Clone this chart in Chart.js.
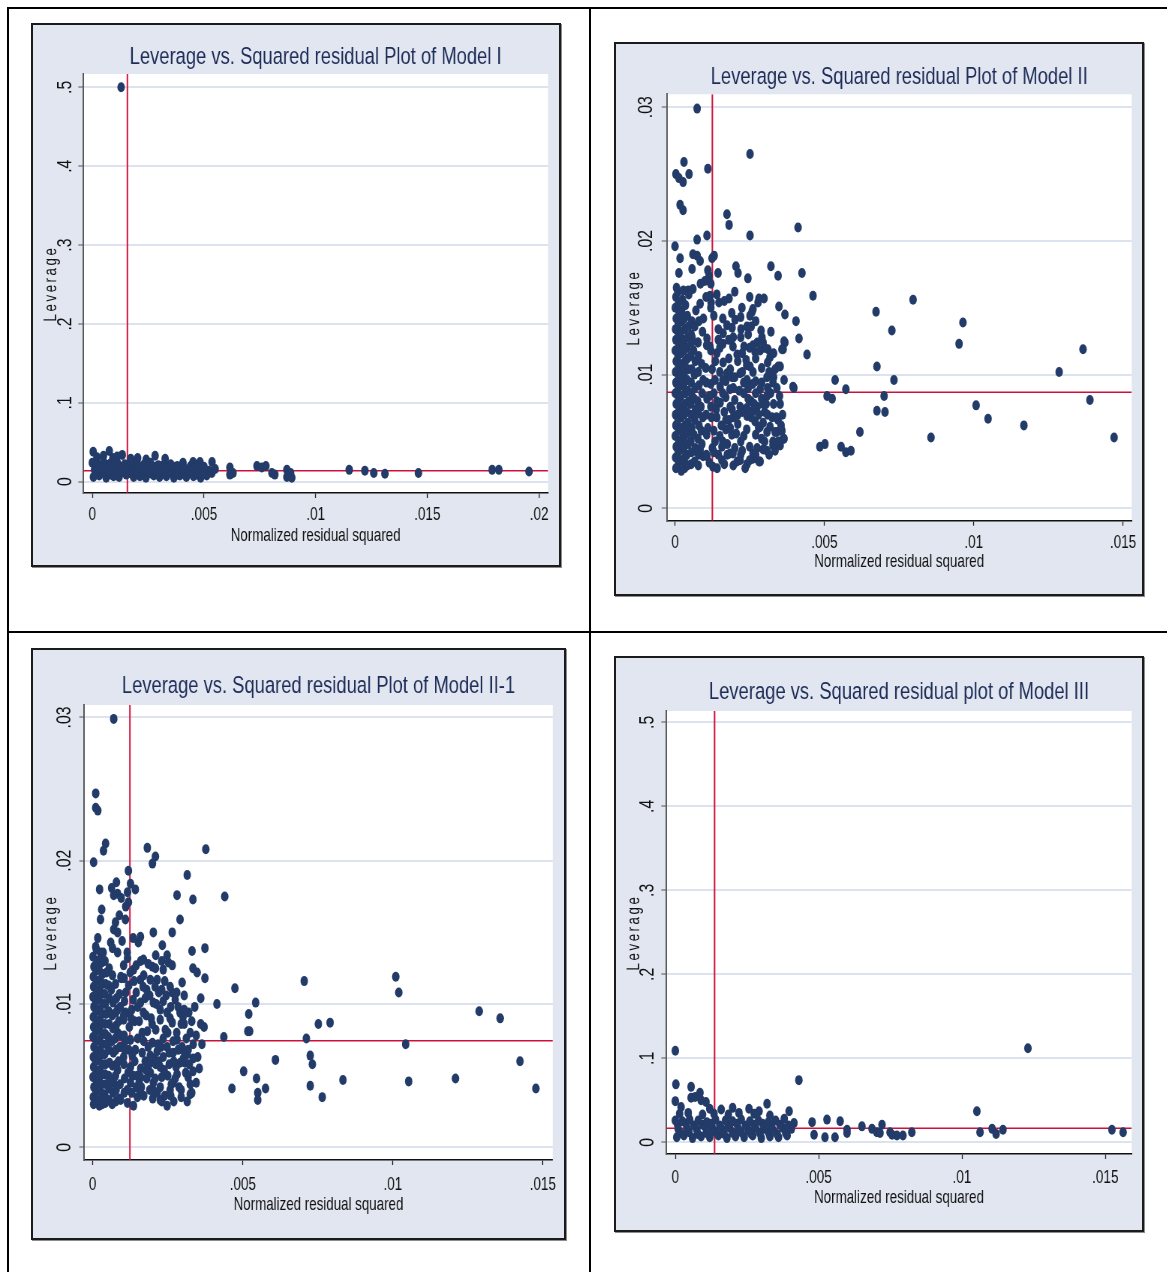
<!DOCTYPE html>
<html>
<head>
<meta charset="utf-8">
<script src="https://cdn.jsdelivr.net/npm/chart.js@4.4.0/dist/chart.umd.min.js"></script>
<style>
body { margin: 0; background: #fff; width: 1167px; height: 1272px; position: relative; overflow: hidden; }
.rule { position: absolute; background: #000; }
.panel { position: absolute; box-sizing: border-box; border: 2px solid #1b1b1b; background: #e1e6f0; box-shadow: 1px 1px 0 #8c8c8c; overflow: hidden; }
.panel canvas { position: absolute; left: 0; top: 0; transform-origin: 0 0; }
</style>
</head>
<body>
<div class="rule" style="left:7px;top:7px;width:1160px;height:2px"></div>
<div class="rule" style="left:7px;top:7px;width:2px;height:1265px"></div>
<div class="rule" style="left:589px;top:7px;width:2px;height:1265px"></div>
<div class="rule" style="left:7px;top:631px;width:1160px;height:2px"></div>
<script>
const modelTitles = [
    "Leverage vs. Squared residual Plot of Model I",
    "Leverage vs. Squared residual Plot of Model II",
    "Leverage vs. Squared residual Plot of Model II-1",
    "Leverage vs. Squared residual plot of Model III"
];
const xAxisTitle = "Normalized residual squared";
const yAxisTitle = "Leverage";

const xTicksWide = [0, 0.005, 0.01, 0.015, 0.02];
const xLabelsWide = ["0", ".005", ".01", ".015", ".02"];
const xTicksNarrow = [0, 0.005, 0.01, 0.015];
const xLabelsNarrow = ["0", ".005", ".01", ".015"];
const yTicksHigh = [0, 0.1, 0.2, 0.3, 0.4, 0.5];
const yLabelsHigh = ["0", ".1", ".2", ".3", ".4", ".5"];
const yTicksLow = [0, 0.01, 0.02, 0.03];
const yLabelsLow = ["0", ".01", ".02", ".03"];

// mean lines drawn in red
const refResid = [0.00157, 0.00125, 0.00124, 0.00137];
const refLev = [0.0140, 0.00868, 0.00744, 0.0167];

// Model I: [residual x 1e4, leverage x 1e2]
const m1Points = [
    [12.9,50.0],
    [0.4,3.8],[7.6,3.9],[13.4,3.4],[28.1,3.3],[32.6,2.9],[40.6,2.4],[45.1,2.5],[48.2,2.5],[53.6,2.5],
    [2.1,3.1],[5.0,3.3],[9.2,3.0],[11.1,3.2],[17.2,2.9],[20.3,3.0],[24.1,2.8],
    [0.5,0.6],[3.1,0.8],[6.2,0.5],[9.5,0.7],[12.0,0.6],[15.2,0.9],[18.5,0.6],[21.3,0.7],[24.0,0.5],[27.5,0.8],
    [30.1,0.6],[33.2,0.7],[36.5,0.5],[39.2,0.8],[42.1,0.6],[45.3,0.7],[48.5,0.5],[51.2,0.8],
    [2.0,1.0],[5.0,1.1],[8.5,0.9],[11.5,1.0],[14.0,1.2],[17.5,1.0],[20.5,1.1],[23.5,0.9],[26.5,1.0],[29.0,1.2],
    [32.0,1.0],[35.5,1.1],[38.0,0.9],[41.0,1.0],[44.5,1.1],[47.0,0.9],[50.0,1.0],[53.5,1.1],
    [1.0,1.5],[4.2,1.6],[7.5,1.4],[10.1,1.7],[13.0,1.5],[16.1,1.4],[19.2,1.6],[22.5,1.5],[25.1,1.3],[28.2,1.6],
    [31.0,1.5],[34.5,1.4],[37.1,1.6],[40.2,1.5],[43.5,1.3],[46.1,1.6],[49.0,1.5],[52.2,1.4],[55.0,1.6],
    [1.5,2.0],[4.0,1.9],[6.5,2.1],[9.5,2.0],[12.5,1.9],[16.0,2.0],[18.5,2.1],[21.5,1.9],[24.5,2.0],[27.5,1.9],
    [31.0,2.0],[33.0,1.8],[36.5,1.9],[41.0,1.8],[46.0,2.1],[50.0,1.9],
    [0.0,2.4],[2.5,2.2],[5.1,2.5],[8.0,2.3],[11.2,2.4],[14.5,2.2],[17.0,2.5],[20.1,2.3],[23.2,2.2],[26.0,2.4],
    [29.5,2.1],[35.1,2.2],[38.0,2.0],[44.0,2.0],[47.2,1.9],
    [61.6,1.8],[63.0,1.1],[61.6,0.9],[73.7,2.0],[75.9,1.8],[77.7,2.0],[80.4,1.1],[81.7,0.9],[87.1,1.5],[88.8,1.1],
    [87.1,0.6],[89.3,0.5],
    [115.0,1.5],[122.0,1.4],[126.0,1.1],[131.0,1.0],[146.0,1.1],[179.0,1.5],[182.0,1.5],[195.5,1.3]
];

// Model II: [residual x 1e4, leverage x 1e3]
const m2Points = [
    [7.4,29.9],[25.1,26.5],[3.0,25.9],[11.0,25.4],[0.3,25.0],[1.3,24.7],[2.7,24.4],[4.7,25.0],
    [1.7,22.7],[2.7,22.3],[17.4,22.0],[18.1,21.2],[41.2,21.0],[25.1,20.4],[10.7,20.4],[7.4,20.1],
    [0.0,19.6],[1.7,18.7],[6.0,19.0],[7.4,18.9],[8.4,18.5],[5.7,17.9],[12.4,18.7],[13.1,18.9],
    [1.3,17.6],[11.0,17.8],[11.4,17.4],[14.4,17.6],[20.4,18.1],[21.1,17.6],[24.4,17.2],[32.1,18.1],[34.5,17.4],[42.5,17.6],
    [46.2,15.9],[34.8,15.1],[36.8,14.5],[40.5,14.0],[41.5,12.7],[36.8,12.4],[36.2,11.9],[44.2,11.5],[39.5,9.1],[39.8,9.0],
    [67.3,14.7],[79.7,15.6],[72.6,13.3],[96.4,13.9],[95.1,12.3],[67.6,10.6],[73.3,9.6],[128.6,10.2],[136.6,11.9],
    [53.6,9.6],[57.2,8.9],[50.9,8.4],[52.6,8.2],[70.0,8.4],[67.6,7.3],[70.3,7.2],[100.8,7.7],[104.8,6.7],[116.8,6.2],
    [138.9,8.1],[147.0,5.3],[85.7,5.3],[61.9,5.7],
    [48.5,4.6],[50.2,4.8],[55.6,4.6],[57.2,4.2],[58.9,4.3],[36.5,5.2],[35.2,4.7],[35.2,10.6],[35.2,7.8],
    [4.4,16.3],[6.0,16.4],[8.4,15.3],[11.7,15.9],[10.4,15.8],[12.1,15.4],[14.7,15.4],[18.1,15.7],[22.4,15.0],
    [25.8,14.7],[26.1,14.9],[25.1,14.4],[27.8,15.4],[28.1,15.7],[29.8,15.7],
    [20.1,14.1],[17.4,13.7],[16.1,13.1],[19.1,13.5],[22.1,13.4],[24.1,13.6],
    [28.8,13.3],[29.1,12.8],[32.1,13.2],[29.5,12.4],[36.5,12.5],[35.8,11.9],[31.1,11.9],[31.8,11.3],
    [5.7,12.8],[7.7,12.4],[10.7,12.7],[11.7,12.1],
    [19.4,12.1],[20.8,11.5],[23.1,12.1],[26.1,12.2],[26.8,11.7],
    [23.8,11.1],[25.1,10.6],[26.1,10.2],[30.8,9.8],[32.8,9.9],[34.5,10.6],
    [16.1,10.9],[17.4,10.1],[19.1,9.8],[21.8,10.1],[24.1,9.6],
    [12.4,10.4],[13.4,9.6],[15.1,9.1],[18.4,8.9],
    [28.5,8.9],[30.8,8.4],[32.8,9.4],[34.1,9.0],
    [15.1,7.9],[19.1,7.4],[21.8,7.6],[24.1,6.9],[26.8,6.5],[29.5,6.4],[31.8,6.1],[34.1,5.7],[35.8,5.8],[36.2,5.2],
    [32.8,5.0],[30.8,4.3],[28.5,3.5],
    [8.4,4.4],[10.7,3.9],[13.4,5.0],[15.7,4.6],[18.4,4.1],[20.8,3.5],[24.1,3.3],[26.1,4.1],
    [7.4,4.2],[9.4,3.9],[12.7,3.1],[14.1,3.0],[15.7,3.6],[19.4,4.1],[21.8,3.6],[26.1,3.7],[28.1,3.5],
    [32.8,4.7],[34.5,5.0],[33.5,5.7],[30.8,5.7],[28.5,6.1],
    [17.0,8.3],[20.0,8.1],[23.0,8.6],[25.5,8.0],[27.5,7.6],[30.0,7.2],[33.0,7.8],[22.5,7.2],[26.0,7.3],[18.0,6.6],
    [21.0,6.3],[24.0,5.9],[27.0,5.5],[29.0,5.2],[19.0,5.5],[22.0,5.0],[17.0,5.9],[16.5,7.2],[14.0,6.8],[12.0,7.6],
    [13.0,8.6],[12.0,9.3],[15.0,10.2],[14.0,11.6],[16.0,12.3],[18.0,11.2],[21.0,11.0],[24.0,10.7],[27.0,11.2],
    [29.0,10.5],[31.0,10.9],[26.0,9.3],[23.0,9.4],[20.0,9.8],[17.0,9.5],
    [12.5,4.5],[13.0,5.8],[12.2,6.8],[14.5,4.0],[16.0,5.0],[15.5,6.2],[17.5,4.8],[18.5,6.0],[20.0,4.5],[20.5,5.6],
    [22.5,4.3],[23.0,5.4],[25.0,4.6],[25.5,6.8],[27.5,4.5],[28.0,6.0],[30.0,5.0],[31.0,7.0],[29.5,7.8],[32.0,8.6],
    [34.5,6.6],[36.0,7.0],[33.5,10.4],[36.5,9.6],[30.0,12.0],[33.0,11.6],[27.5,12.4],[24.5,13.0],[22.0,12.8],[18.0,12.6],
    [14.5,13.4],[13.0,14.4],[16.0,14.2],[19.0,14.6],[22.0,14.3],[13.5,11.0],[11.5,8.4],[11.0,6.0],[13.8,7.4],[16.0,8.6],
    [18.5,7.6],[19.5,9.0],[21.5,8.8],[24.5,8.2],[27.0,9.5],[29.0,9.4],[25.0,12.0],[28.5,11.8],[31.5,10.2],[15.0,12.0],
    [12.0,15.0],[14.0,16.0],[16.5,15.5],[20.0,16.2],[25.0,15.8],[10.0,17.0],[8.5,16.8],[12.0,16.8],
    [11.5,3.4],[13.0,4.2],[16.5,3.3],[17.5,4.0],[19.5,3.2],[22.0,4.0],[23.5,3.0],[25.0,3.6],[27.0,4.0],[29.5,4.4],
    [31.5,4.0],[33.5,4.3],[35.5,6.2],[34.0,6.8],[32.5,6.8],[30.5,7.8],[28.0,7.0],[26.5,7.8],[24.0,7.5],[21.0,7.0],
    [19.5,6.8],[17.0,6.6],[15.0,5.4],[14.0,8.0],[16.0,9.6],[18.5,10.4],[22.5,10.2],[24.5,9.0],[27.0,8.6],[29.0,8.2],
    [31.0,9.0],[33.0,9.8],[35.0,8.4],[12.0,11.8],[14.5,12.6],[19.5,12.8],[22.5,11.6],[25.5,13.6],[27.0,14.0],
    [0.3,3.0],[0.2,3.8],[0.4,4.6],[0.1,5.4],[0.3,6.2],[0.2,7.0],[0.4,7.8],[0.1,8.6],[0.3,9.4],[0.2,10.2],
    [0.4,11.0],[0.1,11.8],[0.3,12.6],[0.2,13.4],[0.4,14.2],[0.1,15.0],[0.3,15.8],[0.5,16.5],
    [1.2,3.4],[1.1,4.2],[1.3,5.0],[1.2,5.8],[1.0,6.6],[1.4,7.4],[1.2,8.2],[1.1,9.0],[1.3,9.8],[1.2,10.6],
    [1.0,11.4],[1.3,12.2],[1.2,13.0],[1.1,13.8],[1.4,14.6],[1.2,15.4],[1.0,16.2],
    [2.1,2.8],[2.3,3.6],[2.0,4.4],[2.4,5.2],[2.2,6.0],[2.1,6.8],[2.5,7.6],[2.0,8.4],[2.3,9.2],[2.2,10.0],
    [2.4,10.8],[2.1,11.6],[2.3,12.4],[2.0,13.2],[2.4,14.0],[2.2,14.8],[2.5,15.6],[2.8,16.3],
    [3.2,3.0],[3.3,3.8],[3.1,4.6],[3.2,5.4],[3.4,6.2],[3.0,7.0],[3.2,7.8],[3.3,8.6],[3.1,9.4],[3.2,10.2],
    [3.4,11.0],[3.0,11.8],[3.2,12.6],[3.3,13.4],[3.1,14.2],[3.5,15.2],
    [4.2,3.2],[4.0,4.0],[4.4,4.8],[4.1,5.6],[4.3,6.4],[4.0,7.2],[4.5,8.0],[4.2,8.8],[4.1,9.6],[4.4,10.4],
    [4.2,11.2],[4.0,12.0],[4.3,12.8],[4.5,13.6],[4.1,14.4],[4.6,16.0],
    [5.4,3.3],[5.5,4.2],[5.3,5.0],[5.6,6.0],[5.4,7.0],[5.2,7.8],[5.5,8.6],[5.4,9.4],[5.6,10.4],[5.3,11.4],
    [5.5,12.4],[5.4,13.0],[5.6,14.0],
    [6.5,3.5],[6.8,4.5],[6.3,5.5],[6.6,6.6],[6.9,7.4],[6.4,8.2],[6.7,9.0],[6.5,10.0],[6.8,11.0],[6.2,11.8],
    [6.6,13.6],[7.0,14.8],
    [7.8,3.2],[7.9,4.0],[7.7,5.2],[8.0,6.2],[7.8,7.1],[7.6,8.0],[8.0,9.2],[7.8,10.2],[7.9,11.4],[7.7,12.4],[8.0,14.0],
    [9.0,4.8],[8.8,5.8],[9.3,6.8],[8.7,7.6],[9.1,8.6],[9.4,9.6],[8.9,10.8],[9.2,13.2],[9.5,14.2],
    [10.5,4.0],[10.6,5.5],[10.4,7.0],[10.7,8.2],[10.5,9.4],[10.3,10.5],[10.6,12.2]
];

// Model II-1: [residual x 1e4, leverage x 1e3]
const m3Points = [
    [7.0,29.9],[1.0,24.7],[1.0,23.7],[1.7,23.5],[4.3,21.2],[3.6,20.7],[0.3,19.9],[18.2,20.9],[20.9,20.3],[19.9,19.8],
    [37.7,20.8],[11.9,19.3],[31.5,19.0],[2.3,18.0],
    [6.3,18.1],[7.9,18.5],[8.3,17.7],[7.0,17.6],[11.6,17.8],[14.2,18.0],[12.6,18.4],[11.9,17.1],
    [28.1,17.6],[33.4,17.3],[44.0,17.5],[3.0,16.6],[2.6,15.9],
    [8.9,16.2],[7.6,15.7],[7.0,15.2],[8.3,15.0],[10.9,15.9],
    [29.1,15.9],[26.5,15.0],[20.2,15.0],[15.9,14.7],[15.2,14.3],[23.2,14.1],
    [1.7,14.6],[1.0,14.0],[2.6,13.6],[6.0,14.3],[6.6,13.9],[8.3,13.6],
    [11.6,13.2],[16.9,13.1],[33.1,13.7],[37.4,13.9],[24.8,13.4],[25.2,12.9],
    [10.3,12.7],[13.6,12.4],[15.9,11.7],[19.9,12.6],[20.9,12.5],[19.2,11.7],[21.5,11.7],[23.5,12.4],[26.5,12.7],
    [25.8,11.2],[29.8,11.5],[33.4,12.5],[34.8,12.2],[37.4,11.8],
    [47.4,11.1],[41.4,10.0],[54.3,10.1],[52.0,9.3],[51.7,8.1],[52.3,8.1],[43.7,7.7],[37.1,8.4],[36.4,7.2],
    [60.9,6.1],[50.3,5.3],[54.6,4.8],[46.4,4.1],[57.6,4.1],[55.0,3.8],[55.0,3.3],
    [70.5,11.6],[75.2,8.6],[79.1,8.7],[71.2,7.6],[72.5,6.4],[73.2,5.8],[72.5,4.3],[76.5,3.5],[83.4,4.7],
    [101.0,11.9],[102.0,10.8],[104.3,7.2],[105.3,4.6],[120.9,4.8],[128.8,9.5],[135.8,9.0],[142.4,6.0],[147.7,4.1],
    [31.5,3.2],[32.5,3.7],[31.8,4.9],[33.4,5.3],[30.8,5.9],[31.5,6.5],[31.8,6.8],[32.5,8.0],
    [24.8,2.9],[22.5,3.3],[21.5,3.8],[25.8,4.0],[26.8,4.5],[28.1,5.1],[29.1,5.9],[26.8,6.6],[24.8,7.0],[28.1,7.5],
    [26.5,8.7],[29.1,9.4],[30.1,9.1],
    [13.6,2.9],[15.9,3.9],[14.9,3.5],[11.6,3.1],[9.3,3.3],
    [20.2,4.5],[19.2,5.2],[22.5,5.6],[23.5,6.3],[21.5,6.7],[19.9,7.3],[18.2,8.1],[22.5,8.9],[24.8,9.4],[16.9,9.4],
    [15.9,10.1],[20.2,10.1],
    [12.6,5.6],[10.3,6.3],[8.3,5.4],[7.0,4.5],[9.3,7.0],[8.3,8.0],[10.3,8.9],[8.3,9.6],[12.6,7.5],[14.2,6.8],
    [12.6,4.5],[15.9,4.9],
    [17.5,6.0],[19.0,4.0],[23.0,4.9],[27.0,3.2],[29.5,4.0],[14.0,8.8],[11.0,10.8],[13.5,10.3],[18.0,11.0],[22.0,10.8],
    [27.5,10.3],[24.0,11.6],[30.5,10.6],[34.0,9.8],[36.0,10.4],[33.5,7.2],[35.0,6.3],[34.5,4.5],[16.0,5.5],[20.5,6.2],
    [25.5,5.8],[28.5,6.8],[9.5,11.8],[12.0,11.3],[14.5,12.7],[17.0,12.0],
    [11.5,4.0],[12.0,6.8],[13.5,5.0],[14.5,4.2],[15.0,7.6],[16.5,6.6],[17.0,3.6],[18.0,4.8],[18.5,7.0],[20.0,3.4],
    [21.0,5.8],[21.0,8.2],[22.5,4.2],[23.5,7.6],[24.0,3.6],[25.0,5.0],[26.0,9.8],[27.0,6.0],[28.0,8.0],[29.5,3.5],
    [30.0,6.8],[30.5,8.6],[32.5,4.4],[33.5,6.2],[35.5,5.5],[11.0,9.4],[13.0,9.6],[15.5,8.8],[17.5,10.4],[19.5,9.0],
    [22.5,9.6],[24.5,10.6],[10.5,11.8],[12.5,12.2],[16.0,13.0],[18.5,12.8],[21.0,13.4],[23.0,13.0],
    [11.8,5.2],[13.0,3.8],[14.0,6.0],[15.5,4.6],[16.5,8.0],[17.8,5.4],[19.2,6.4],[20.5,3.9],[21.8,7.2],[23.0,3.2],
    [24.2,8.2],[25.5,6.6],[26.0,3.6],[27.5,4.8],[28.5,9.8],[29.8,7.0],[31.0,5.2],[32.0,9.4],[33.0,3.8],[34.5,7.8],
    [36.0,8.6],[10.8,7.4],[12.2,8.4],[13.8,11.6],[15.0,9.8],[16.8,11.2],[19.0,10.6],[21.2,10.0],[23.5,10.2],[26.5,10.8],
    [11.5,13.6],[13.5,14.6],[9.8,14.4],[11.0,16.8],[9.5,17.4],
    [13.2,6.4],[14.8,5.0],[16.2,4.2],[17.0,7.4],[18.8,5.8],[19.8,8.6],[20.8,4.8],[22.0,6.0],[22.8,7.0],[23.8,5.4],
    [25.0,8.0],[26.2,4.4],[26.8,7.4],[27.8,5.6],[28.8,4.2],[29.5,8.6],[30.2,6.2],[31.2,7.6],[32.2,5.8],[33.0,8.8],
    [12.8,9.0],[14.5,10.8],[17.8,9.2],[20.8,11.2],[23.0,11.0],[25.8,9.0],[28.0,10.8],[30.5,9.6],
    [0.3,3.0],[0.2,3.5],[0.4,4.2],[0.1,4.9],[0.3,5.6],[0.2,6.3],[0.4,7.0],[0.1,7.7],[0.3,8.4],[0.2,9.1],
    [0.4,9.8],[0.1,10.5],[0.3,11.2],[0.2,11.9],[0.4,12.6],[0.1,13.3],
    [1.2,3.2],[1.1,3.9],[1.3,4.6],[1.2,5.3],[1.0,6.0],[1.4,6.7],[1.2,7.4],[1.1,8.1],[1.3,8.8],[1.2,9.5],
    [1.0,10.2],[1.3,10.9],[1.2,11.6],[1.1,12.3],[1.4,13.0],[1.2,13.8],
    [2.2,2.9],[2.0,3.3],[2.4,4.0],[2.1,4.7],[2.3,5.4],[2.0,6.1],[2.5,6.8],[2.2,7.5],[2.1,8.2],[2.4,8.9],
    [2.2,9.6],[2.0,10.3],[2.3,11.0],[2.5,11.7],[2.1,12.4],[2.4,13.1],
    [3.2,3.0],[3.3,3.7],[3.1,4.4],[3.2,5.1],[3.4,5.8],[3.0,6.5],[3.2,7.2],[3.3,7.9],[3.1,8.6],[3.2,9.3],
    [3.4,10.0],[3.0,10.7],[3.2,11.4],[3.3,12.1],[3.1,12.9],[3.5,13.6],
    [4.2,3.1],[4.0,3.7],[4.4,4.4],[4.1,5.1],[4.3,5.8],[4.0,6.5],[4.5,7.2],[4.2,7.9],[4.1,8.6],[4.4,9.3],
    [4.2,10.0],[4.0,10.7],[4.3,11.4],[4.6,12.2],[4.1,13.0],
    [5.4,3.3],[5.5,4.1],[5.3,5.0],[5.6,5.9],[5.4,6.8],[5.2,7.7],[5.5,8.6],[5.4,9.5],[5.6,10.4],[5.3,11.3],[5.5,12.5],
    [6.5,3.0],[6.8,3.8],[6.3,4.7],[6.6,5.7],[6.9,6.6],[6.4,7.4],[6.7,8.3],[6.5,9.2],[6.8,10.1],[6.2,11.0],[6.6,12.0],
    [7.7,3.2],[7.8,4.0],[7.6,5.0],[7.9,5.8],[7.7,6.8],[7.5,7.6],[7.8,8.5],[7.7,9.4],[7.9,10.4],[7.6,11.4],
    [8.8,3.4],[9.1,4.4],[8.6,6.0],[9.0,7.0],[9.3,7.8],[8.7,8.8],[9.2,9.8],[8.9,10.7],[9.4,11.9],
    [10.5,3.8],[10.6,4.8],[10.4,5.8],[10.7,6.8],[10.5,7.8],[10.3,9.2],[10.6,10.2]
];

// Model III: [residual x 1e4, leverage x 1e2]
const m4Points = [
    [0.0,10.9],[0.2,6.9],[5.5,6.6],[5.5,5.3],[6.9,5.4],[8.6,5.9],[9.0,5.0],[10.7,4.8],[0.0,4.9],
    [43.1,7.4],[32.0,4.6],[25.7,4.0],[29.2,3.7],[22.2,3.5],[39.7,3.7],
    [41.4,2.3],[47.7,2.4],[48.4,0.9],[52.9,2.7],[52.2,0.6],[55.7,0.6],[57.5,2.5],[59.9,1.5],[59.9,1.1],[65.1,1.9],
    [68.6,1.6],[70.3,1.2],[71.4,1.1],[72.1,2.1],[74.9,1.2],[75.6,0.9],[77.3,0.8],[79.4,0.8],[82.5,1.2],
    [123.0,11.2],[105.2,3.7],[106.3,1.2],[110.5,1.6],[111.9,1.0],[114.3,1.5],[152.3,1.5],[156.2,1.2],
    [0.5,0.6],[3.0,0.8],[6.0,0.5],[9.0,0.7],[12.0,0.6],[15.0,0.8],[18.0,0.5],[21.0,0.7],[24.0,0.6],[27.0,0.8],
    [30.0,0.5],[33.0,0.7],[36.0,0.6],[39.0,0.8],
    [1.8,1.1],[4.8,1.2],[7.8,1.0],[10.8,1.1],[14.0,1.2],[17.0,1.0],[20.0,1.1],[23.0,1.2],[26.5,1.0],[29.5,1.1],
    [32.5,1.2],[35.5,1.0],[38.5,1.1],
    [1.0,1.6],[4.0,1.7],[7.5,1.5],[10.5,1.8],[13.0,1.6],[16.5,1.5],[19.0,1.7],[22.0,1.6],[25.5,1.4],[28.0,1.7],
    [31.0,1.6],[34.0,1.5],[37.5,1.7],[40.5,1.6],
    [0.8,2.1],[3.8,2.2],[6.5,2.0],[9.5,2.1],[12.5,2.2],[15.5,2.0],[18.5,2.1],[21.5,2.2],[24.5,2.0],[27.5,2.1],
    [30.5,2.2],[33.5,2.0],[36.5,2.1],[39.5,2.0],
    [0.0,2.6],[2.5,2.5],[5.0,2.7],[8.0,2.6],[11.0,2.4],[14.0,2.7],[17.5,2.6],[20.0,2.5],[23.0,2.7],[26.0,2.5],
    [29.0,2.6],[32.5,2.4],[35.0,2.6],[38.0,2.8],
    [1.5,3.4],[4.5,3.5],[9.5,3.3],[13.5,3.4],[18.5,3.3],[27.5,3.4],[33.0,3.2],[2.0,4.2],[12.0,4.0],[16.0,3.9],[20.0,4.1]
];

const FONT = "'Liberation Sans', Arimo, Arial, sans-serif";
const SIZE = { title: 24.5, xTick: 18, yTick: 21, axis: 17.8 };
const RED = "#d0103a";
const DOT = "#233b69";
const SQUEEZE = 0.75;   // Stata's condensed lettering: the canvas is drawn wide and squeezed
const TICK_LEN = 5;

const panels = [
    { title: modelTitles[0], pts: m1Points, unit: [1e-4, 1e-2],
      xt: xTicksWide, xl: xLabelsWide, yt: yTicksHigh, yl: yLabelsHigh,
      box: [31, 23, 561, 567], plot: [83.3, 74, 548, 493],
      xr: [-0.000403, 0.0204], yr: [-0.01433, 0.5169],
      titleY: 57, yTitleX: 51, yTickX: 65.5, xTickY: 515.5, xTitleY: 536 },
    { title: modelTitles[1], pts: m2Points, unit: [1e-4, 1e-3],
      xt: xTicksNarrow, xl: xLabelsNarrow, yt: yTicksLow, yl: yLabelsLow,
      box: [614, 42, 1144, 596], plot: [666.7, 94.3, 1131.7, 520.7],
      xr: [-0.000278, 0.01529], yr: [-0.00093, 0.03097],
      titleY: 77, yTitleX: 634, yTickX: 646.5, xTickY: 543.5, xTitleY: 562 },
    { title: modelTitles[2], pts: m3Points, unit: [1e-4, 1e-3],
      xt: xTicksNarrow, xl: xLabelsNarrow, yt: yTicksLow, yl: yLabelsLow,
      box: [31, 648, 566, 1240], plot: [84.3, 705, 552.7, 1160],
      xr: [-0.00028, 0.01533], yr: [-0.000886, 0.03087],
      titleY: 686, yTitleX: 51, yTickX: 65, xTickY: 1185.5, xTitleY: 1205 },
    { title: modelTitles[3], pts: m4Points, unit: [1e-4, 1e-2],
      xt: xTicksNarrow, xl: xLabelsNarrow, yt: yTicksHigh, yl: yLabelsHigh,
      box: [614, 656, 1144, 1232], plot: [666.3, 711, 1131.7, 1154],
      xr: [-0.000314, 0.01592], yr: [-0.01393, 0.5135],
      titleY: 692, yTitleX: 634, yTickX: 648, xTickY: 1178.5, xTitleY: 1198.5 }
];

const plotBg = {
    id: "plotBg",
    beforeDraw(chart) {
        const { ctx, chartArea: a } = chart;
        ctx.save();
        ctx.fillStyle = "#ffffff";
        ctx.fillRect(a.left, a.top, a.right - a.left, a.bottom - a.top);
        ctx.restore();
    }
};

// rotated text on the y axis: condense along the text, undo the squeeze across it
function uprightText(scale, name, kx, spacing) {
    const base = scale[name];
    scale[name] = function (...args) {
        const ctx = this.ctx;
        const fill = ctx.fillText;
        ctx.fillText = function (t, x, y, m) {
            this.save();
            if (spacing) this.letterSpacing = spacing;
            this.scale(kx, 1 / kx);
            if (m === undefined) fill.call(this, t, x / kx, y * kx);
            else fill.call(this, t, x / kx, y * kx, m / kx);
            this.restore();
        };
        try { base.apply(this, args); } finally { delete ctx.fillText; }
    };
}

const measure = document.createElement("canvas").getContext("2d");

panels.forEach((p, i) => {
    const [bl, bt, br, bb] = p.box;
    const div = document.createElement("div");
    div.className = "panel";
    div.style.left = bl + "px";
    div.style.top = bt + "px";
    div.style.width = (br - bl) + "px";
    div.style.height = (bb - bt) + "px";
    const ox = bl + 2, oy = bt + 2, w = br - bl - 4, h = bb - bt - 4;
    const canvas = document.createElement("canvas");
    canvas.width = Math.round(w / SQUEEZE);
    canvas.height = h;
    canvas.style.width = canvas.width + "px";
    canvas.style.height = h + "px";
    const kx = w / canvas.width;
    canvas.style.transform = "scaleX(" + kx + ")";
    div.appendChild(canvas);
    document.body.appendChild(div);

    const titleLh = SIZE.title * 1.2, xTickLh = SIZE.xTick * 1.2, axisLh = SIZE.axis * 1.2;
    const yTick = TICK_LEN / kx;
    const titleTop = p.titleY - oy - titleLh / 2;
    const titleBottom = p.plot[1] - oy - titleTop - titleLh;
    const yWidth = (p.plot[0] - ox) / kx;
    const xHeight = oy + h - p.plot[3];
    measure.font = SIZE.yTick + "px " + FONT;
    const widest = Math.max(...p.yl.map(s => measure.measureText(s).width));
    const yTickPad = (p.plot[0] - p.yTickX) / kx - yTick - widest / 2;
    const xTickPad = p.xTickY - p.plot[3] - TICK_LEN - xTickLh / 2;
    const yTitlePad = (p.yTitleX - ox) / kx - axisLh / 2;
    const xTitlePad = oy + h - p.xTitleY - axisLh / 2;
    const rightPad = (ox + w - p.plot[2]) / kx;

    new Chart(canvas.getContext("2d"), {
        type: "scatter",
        data: {
            datasets: [{
                data: p.pts.map(([r, l]) => ({ x: r * p.unit[0], y: l * p.unit[1] })),
                pointStyle: "circle",
                pointRadius: 5,
                pointBackgroundColor: DOT,
                pointBorderWidth: 0,
                order: 1
            }, {
                data: [{ x: p.xr[0], y: refLev[i] }, { x: p.xr[1], y: refLev[i] }],
                showLine: true,
                borderColor: RED,
                borderWidth: 1.5,
                pointRadius: 0,
                order: 2
            }, {
                data: [{ x: refResid[i], y: p.yr[0] }, { x: refResid[i], y: p.yr[1] }],
                showLine: true,
                borderColor: RED,
                borderWidth: 1.5 / kx,
                pointRadius: 0,
                order: 2
            }]
        },
        options: {
            responsive: false,
            animation: false,
            events: [],
            layout: { padding: { left: 0, top: 0, bottom: 0, right: rightPad } },
            plugins: {
                legend: { display: false },
                tooltip: { enabled: false },
                title: {
                    display: true,
                    text: p.title,
                    color: "#1e2d58",
                    fullSize: false,
                    font: { family: FONT, size: SIZE.title, weight: "normal" },
                    padding: { top: titleTop, bottom: titleBottom }
                }
            },
            scales: {
                x: {
                    type: "linear",
                    min: p.xr[0],
                    max: p.xr[1],
                    afterBuildTicks: s => { s.ticks = p.xt.map(v => ({ value: v })); },
                    afterFit: s => { s.height = xHeight; },
                    ticks: {
                        callback: (v, k) => p.xl[k],
                        autoSkip: false,
                        maxRotation: 0,
                        color: "#111",
                        padding: xTickPad,
                        font: { family: FONT, size: SIZE.xTick }
                    },
                    grid: { drawOnChartArea: false, drawTicks: true, tickLength: TICK_LEN, tickColor: "#222", tickWidth: 1.3 },
                    border: { display: true, color: "#111", width: 1.5 },
                    title: {
                        display: true,
                        text: xAxisTitle,
                        color: "#111",
                        font: { family: FONT, size: SIZE.axis },
                        padding: { top: 0, bottom: xTitlePad }
                    }
                },
                y: {
                    type: "linear",
                    min: p.yr[0],
                    max: p.yr[1],
                    afterBuildTicks: s => { s.ticks = p.yt.map(v => ({ value: v })); },
                    afterFit: s => {
                        s.width = yWidth;
                        if (!s._upright) {
                            uprightText(s, "drawLabels", kx, null);
                            uprightText(s, "drawTitle", kx, "3.4px");
                            s._upright = true;
                        }
                    },
                    ticks: {
                        callback: (v, k) => p.yl[k],
                        autoSkip: false,
                        minRotation: 90,
                        maxRotation: 90,
                        crossAlign: "center",
                        color: "#111",
                        padding: yTickPad,
                        font: { family: FONT, size: SIZE.yTick }
                    },
                    grid: { color: "#dde3ee", lineWidth: 2, tickLength: yTick, tickColor: "#555", tickWidth: 1 },
                    border: { display: true, color: "#5a5a5a", width: 2 },
                    title: {
                        display: true,
                        text: yAxisTitle,
                        color: "#111",
                        font: { family: FONT, size: SIZE.axis },
                        padding: { top: yTitlePad, bottom: 0 }
                    }
                }
            }
        },
        plugins: [plotBg]
    });
});
</script>
</body>
</html>
